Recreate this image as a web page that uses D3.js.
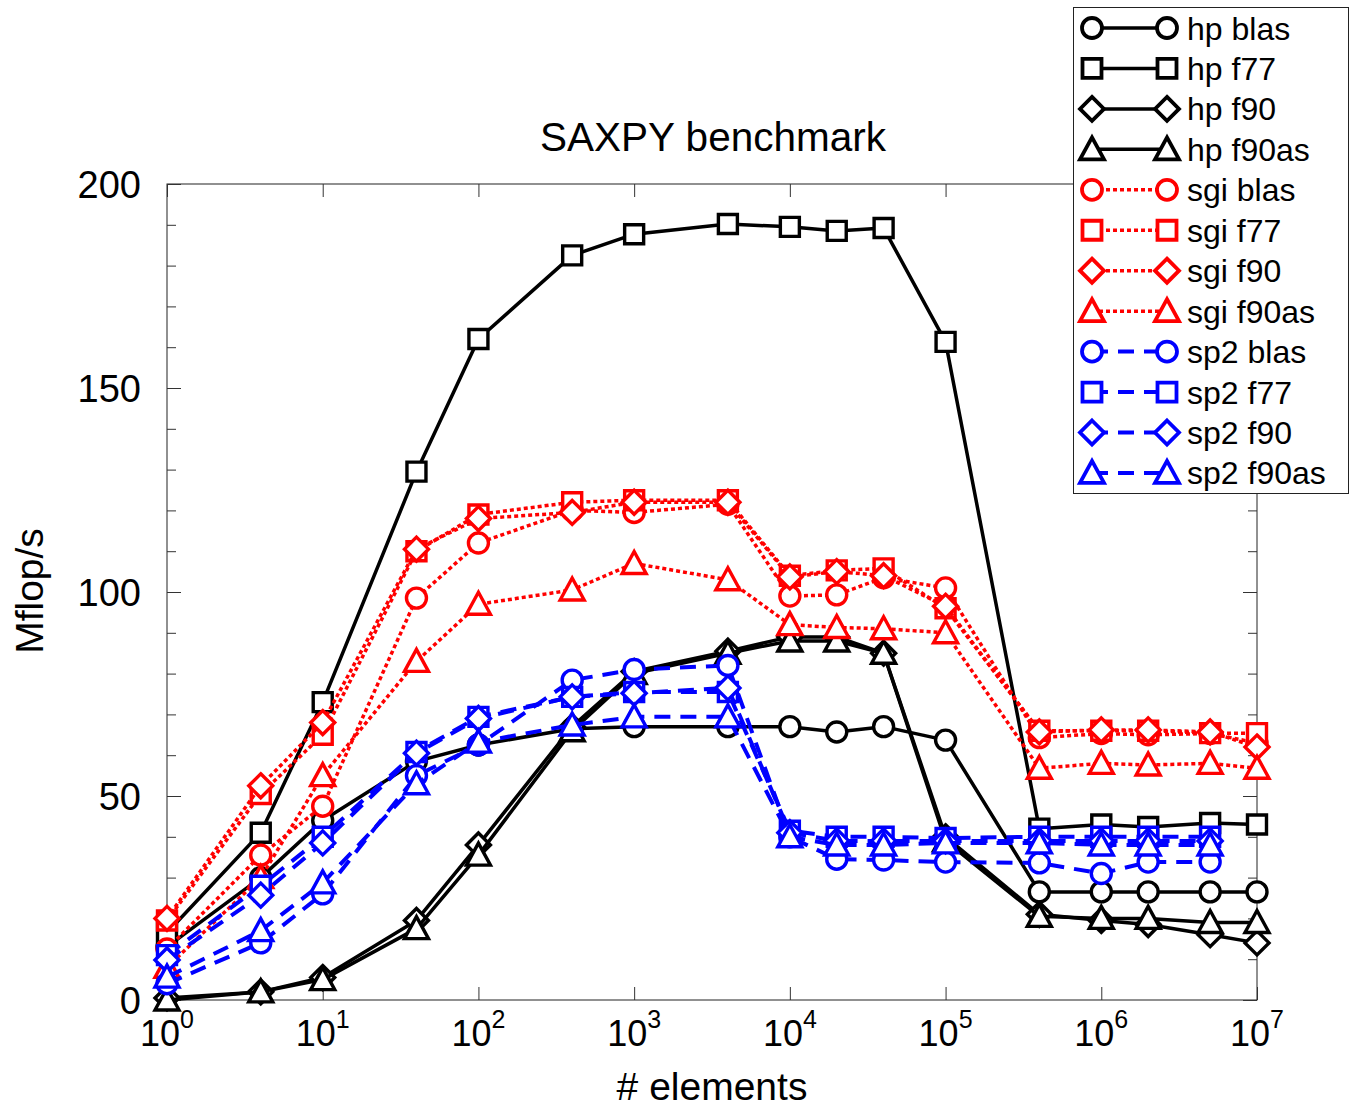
<!DOCTYPE html>
<html>
<head>
<meta charset="utf-8">
<script src="https://cdn.jsdelivr.net/npm/d3@7"></script>
<style>
  body { margin: 0; background: #fff; }
  text { font-family: "Liberation Sans", Arial, sans-serif; }
</style>
</head>
<body>
<div id="chart"></div>
<script>
const elements = [1, 4, 10, 40, 100, 400, 1000, 4000, 1e4, 2e4, 4e4, 1e5, 4e5, 1e6, 2e6, 5e6, 1e7];

const hpBlas   = [13, 30, 44, 58.5, 62.5, 66.5, 67, 67, 67, 65.7, 67, 63.7, 26.5, 26.5, 26.5, 26.5, 26.5];
const hpF77    = [16.5, 41, 73, 129.5, 162, 182.5, 187.7, 190.2, 189.5, 188.5, 189.2, 161.3, 42, 43, 42.4, 43.4, 43];
const hpF90    = [0.5, 2, 5.5, 19.5, 38, 67, 80.5, 85.5, 89, 89, 85, 40, 21, 19.5, 18.5, 16, 14];
const hpF90as  = [0, 2, 5, 17.5, 35.5, 66, 80, 85, 88, 88, 85, 39, 20.5, 20, 20, 19, 19];
const sgiBlas  = [12.5, 35.5, 47.5, 98.5, 112, 120, 119.5, 121.5, 99, 99.3, 103.5, 101, 64.3, 65.3, 65, 65.3, 63];
const sgiF77   = [19.5, 50.5, 65, 110, 119, 122, 122.5, 122.5, 104, 105.3, 105.8, 96, 66, 66, 66, 65.4, 65.4];
const sgiF90   = [20, 52.5, 68, 110.5, 118, 119.5, 122, 122, 103.7, 105, 104, 96.5, 65.7, 66.2, 66.2, 65.7, 62];
const sgiF90as = [8, 30, 55, 83, 97, 100.5, 107, 103, 92, 91.3, 91, 90, 56.8, 58, 57.6, 58, 56.8];
const sp2Blas  = [4, 14, 26, 55, 62.5, 78.4, 81, 82, 40, 34.5, 34.3, 33.8, 33.6, 31, 33.8, 33.8];
const sp2F77   = [11, 28, 40, 60.8, 69.4, 74.3, 75.5, 75.5, 41.5, 40, 40, 39.7, 40, 40, 40, 40];
const sp2F90   = [9.8, 25.7, 38.5, 60.5, 69, 74.3, 75.2, 76.5, 41, 39, 39, 39, 39, 39, 39, 39];
const sp2F90as = [5.6, 17, 28.7, 53, 63.2, 67.4, 69.4, 69.4, 40, 38, 38, 38.5, 38.5, 38, 38, 38];

const seriesNames = ["hp blas", "hp f77", "hp f90", "hp f90as",
                     "sgi blas", "sgi f77", "sgi f90", "sgi f90as",
                     "sp2 blas", "sp2 f77", "sp2 f90", "sp2 f90as"];
const seriesValues = [hpBlas, hpF77, hpF90, hpF90as, sgiBlas, sgiF77, sgiF90, sgiF90as,
                      sp2Blas, sp2F77, sp2F90, sp2F90as];
const markers = ["circle", "square", "diamond", "triangle"];

const xTicks = [1, 10, 100, 1000, 1e4, 1e5, 1e6, 1e7];
const yTicks = [0, 50, 100, 150, 200];

const width = 1356;
const height = 1107;
const margin = { top: 184, right: 99, bottom: 107, left: 167 };

const styles = {
  hp:  { color: "#000", dash: null, width: 3.5 },
  sgi: { color: "#ff0000", dash: "4,3", width: 3.5 },
  sp2: { color: "#0000ff", dash: "16,10", width: 4 }
};

const svg = d3.select("#chart").append("svg")
  .attr("width", width).attr("height", height);

const x = d3.scaleLog().domain([1, 1e7]).range([margin.left, width - margin.right]);
const y = d3.scaleLinear().domain([0, 200]).range([height - margin.bottom, margin.top]);

// frame
svg.append("rect")
  .attr("x", x(1)).attr("y", y(200))
  .attr("width", x(1e7) - x(1)).attr("height", y(0) - y(200))
  .attr("fill", "none").attr("stroke", "#222").attr("stroke-width", 1);

// y ticks: minor every 10, major every 50, both sides, inward
const yMinor = d3.range(0, 201, 10).filter(v => v % 50 !== 0);
[[d3.axisRight, x(1)], [d3.axisLeft, x(1e7)]].forEach(([ax, px]) => {
  svg.append("g").attr("transform", `translate(${px},0)`)
    .call(ax(y).tickValues(yMinor).tickSize(9).tickFormat(""))
    .call(g => g.select(".domain").remove())
    .call(g => g.selectAll("line").attr("stroke", "#333"));
  svg.append("g").attr("transform", `translate(${px},0)`)
    .call(ax(y).tickValues(yTicks).tickSize(14).tickFormat(""))
    .call(g => g.select(".domain").remove())
    .call(g => g.selectAll("line").attr("stroke", "#333"));
});

// x ticks, decades, top and bottom, inward
svg.append("g").attr("transform", `translate(0,${y(0)})`)
  .call(d3.axisTop(x).tickValues(xTicks).tickSize(13).tickFormat(""))
  .call(g => g.select(".domain").remove())
  .call(g => g.selectAll("line").attr("stroke", "#333"));
svg.append("g").attr("transform", `translate(0,${y(200)})`)
  .call(d3.axisBottom(x).tickValues(xTicks).tickSize(13).tickFormat(""))
  .call(g => g.select(".domain").remove())
  .call(g => g.selectAll("line").attr("stroke", "#333"));

// y tick labels
svg.append("g").selectAll("text")
  .data(yTicks).enter().append("text")
  .attr("x", x(1) - 26).attr("y", d => y(d))
  .attr("dy", "0.36em")
  .attr("text-anchor", "end")
  .attr("font-size", 38)
  .text(d => d);

// x tick labels 10^n
const xl = svg.append("g").selectAll("text")
  .data(xTicks).enter().append("text")
  .attr("x", d => x(d)).attr("y", y(0) + 46)
  .attr("text-anchor", "middle")
  .attr("font-size", 36);
xl.append("tspan").text("10");
xl.append("tspan").attr("font-size", 25).attr("dy", -18).text(d => Math.round(Math.log10(d)));

// title and axis labels
svg.append("text").attr("x", 713).attr("y", 151).attr("text-anchor", "middle")
  .attr("font-size", 40.5).text("SAXPY benchmark");
svg.append("text").attr("x", 712).attr("y", 1100).attr("text-anchor", "middle")
  .attr("font-size", 39).text("# elements");
svg.append("text").attr("transform", "translate(43,591) rotate(-90)").attr("text-anchor", "middle")
  .attr("font-size", 39).text("Mflop/s");

function markerPath(type) {
  if (type === "circle") return d3.arc()({ innerRadius: 0, outerRadius: 10, startAngle: 0, endAngle: 2 * Math.PI });
  if (type === "square") return "M-9.5,-9.5H9.5V9.5H-9.5Z";
  if (type === "diamond") return "M0,-12L12,0L0,12L-12,0Z";
  return "M0,-12L12,10H-12Z";
}

const line = d3.line().x(d => x(d[0])).y(d => y(d[1]));

seriesValues.forEach((vals, i) => {
  const name = seriesNames[i];
  const st = styles[name.split(" ")[0]];
  const pts = vals.map((v, j) => [elements[j], v]);
  const g = svg.append("g");
  g.append("path").attr("d", line(pts))
    .attr("fill", "none").attr("stroke", st.color)
    .attr("stroke-width", st.width)
    .attr("stroke-dasharray", st.dash)
    .attr("stroke-linejoin", "round");
  g.selectAll("path.m").data(pts).enter().append("path").attr("class", "m")
    .attr("d", markerPath(markers[i % 4]))
    .attr("transform", d => `translate(${x(d[0])},${y(d[1])})`)
    .attr("fill", "#fff").attr("stroke", st.color).attr("stroke-width", 3.4);
});

// legend
const lg = svg.append("g");
lg.append("rect").attr("x", 1073.5).attr("y", 7.5).attr("width", 275).attr("height", 486)
  .attr("fill", "#fff").attr("stroke", "#222").attr("stroke-width", 1);
seriesNames.forEach((name, i) => {
  const st = styles[name.split(" ")[0]];
  const ly = 28 + i * 40.45;
  lg.append("line").attr("x1", 1092).attr("x2", 1167).attr("y1", ly).attr("y2", ly)
    .attr("stroke", st.color).attr("stroke-width", st.width).attr("stroke-dasharray", st.dash);
  [1092, 1167].forEach(mx => {
    lg.append("path").attr("d", markerPath(markers[i % 4]))
      .attr("transform", `translate(${mx},${ly})`)
      .attr("fill", "#fff").attr("stroke", st.color).attr("stroke-width", 3.8);
  });
  lg.append("text").attr("x", 1187).attr("y", ly).attr("dy", "0.36em")
    .attr("font-size", 32).text(name);
});
</script>
</body>
</html>
